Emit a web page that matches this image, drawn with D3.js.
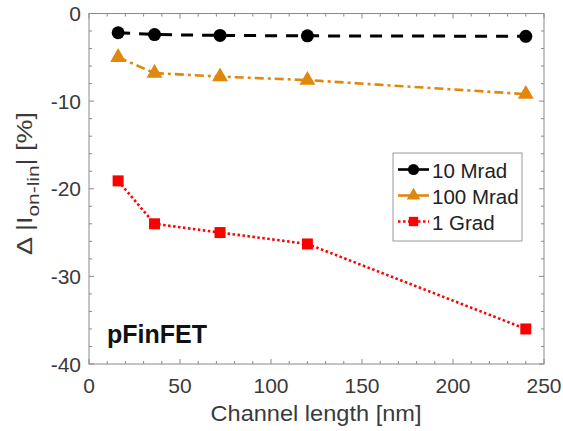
<!DOCTYPE html>
<html>
<head>
<meta charset="utf-8">
<script src="https://cdn.jsdelivr.net/npm/d3@7"></script>
<style>
  body { margin: 0; background: #fff; }
  svg { font-family: "Liberation Sans", Arial, sans-serif; }
</style>
</head>
<body>
<svg width="563" height="431"></svg>
<script>
const channelLength = [16, 36, 72, 120, 240];
const mrad10 = [-2.2, -2.4, -2.5, -2.55, -2.6];
const mrad100 = [-5.0, -6.8, -7.2, -7.6, -9.2];
const grad1 = [-19.1, -24.0, -25.0, -26.3, -36.0];
const xTicks = [0, 50, 100, 150, 200, 250];
const yTicks = [0, -10, -20, -30, -40];

const series = [
    { name: "10 Mrad", values: mrad10, color: "#000000", dash: "12,9", width: 3, marker: "circle" },
    { name: "100 Mrad", values: mrad100, color: "#e0870c", dash: "9,4,3,4", width: 2.6, marker: "triangle" },
    { name: "1 Grad", values: grad1, color: "#ff0000", dash: "2.5,2.5", width: 2.6, marker: "square" }
];

const svg = d3.select("svg");
const mLeft = 89, mRight = 544, mTop = 13.5, mBottom = 364;

const x = d3.scaleLinear().domain([0, 250]).range([mLeft, mRight]);
const y = d3.scaleLinear().domain([-40, 0]).range([mBottom, mTop]);

const axisColor = "#8a8a8a";
const labelColor = "#3a3a3a";

// frame
svg.append("rect")
    .attr("x", mLeft).attr("y", mTop)
    .attr("width", mRight - mLeft).attr("height", mBottom - mTop)
    .attr("fill", "none").attr("stroke", axisColor).attr("stroke-width", 1);

// ticks, inward on all four sides
const xMinor = d3.range(0, 251, 10);
const yMinor = d3.range(-40, 1, 2);
const g = svg.append("g").attr("stroke", axisColor).attr("stroke-width", 1);
xMinor.forEach(v => {
    const len = v % 50 === 0 ? 5 : 3;
    g.append("line").attr("x1", x(v)).attr("x2", x(v)).attr("y1", mBottom).attr("y2", mBottom - len);
    g.append("line").attr("x1", x(v)).attr("x2", x(v)).attr("y1", mTop).attr("y2", mTop + len);
});
yMinor.forEach(v => {
    const len = v % 10 === 0 ? 5 : 3;
    g.append("line").attr("y1", y(v)).attr("y2", y(v)).attr("x1", mLeft).attr("x2", mLeft + len);
    g.append("line").attr("y1", y(v)).attr("y2", y(v)).attr("x1", mRight).attr("x2", mRight - len);
});

// tick labels
svg.selectAll(".xt").data(xTicks).enter().append("text")
    .attr("x", d => x(d)).attr("y", mBottom + 29)
    .attr("text-anchor", "middle").attr("font-size", "21px").attr("fill", labelColor)
    .text(d => d);
svg.selectAll(".yt").data(yTicks).enter().append("text")
    .attr("x", mLeft - 8).attr("y", d => y(d) + 7.5)
    .attr("text-anchor", "end").attr("font-size", "21px").attr("fill", labelColor)
    .text(d => d);

// axis labels
svg.append("text")
    .attr("x", 316).attr("y", 421)
    .attr("text-anchor", "middle").attr("font-size", "22px").attr("fill", labelColor)
    .attr("textLength", 211).attr("lengthAdjust", "spacingAndGlyphs")
    .text("Channel length [nm]");

const yl = svg.append("text")
    .attr("transform", "translate(32, 183.5) rotate(-90)")
    .attr("text-anchor", "middle").attr("font-size", "22px").attr("fill", labelColor)
    .attr("textLength", 143).attr("lengthAdjust", "spacingAndGlyphs");
yl.append("tspan").text("\u0394 |I");
yl.append("tspan").attr("font-size", "17px").attr("dy", 7).text("on-lin");
yl.append("tspan").attr("dy", -7).text("| [%]");

// lines + markers
const line = d3.line().x((d, i) => x(channelLength[i])).y(d => y(d));

function drawMarker(sel, type, color, cx, cy, scale) {
    const k = scale || 1;
    if (type === "circle") {
        sel.append("circle").attr("cx", cx).attr("cy", cy).attr("r", 6.5 * k).attr("fill", color);
    } else if (type === "triangle") {
        sel.append("path")
            .attr("d", d3.symbol().type(d3.symbolTriangle).size(110 * k * k)())
            .attr("transform", `translate(${cx},${cy})`).attr("fill", color);
    } else {
        sel.append("rect").attr("x", cx - 5.5 * k).attr("y", cy - 5.5 * k)
            .attr("width", 11 * k).attr("height", 11 * k).attr("fill", color);
    }
}

series.forEach(s => {
    svg.append("path")
        .attr("d", line(s.values))
        .attr("fill", "none").attr("stroke", s.color)
        .attr("stroke-width", s.width).attr("stroke-dasharray", s.dash);
    const mg = svg.append("g");
    s.values.forEach((v, i) => drawMarker(mg, s.marker, s.color, x(channelLength[i]), y(v)));
});

// legend
const lg = svg.append("g");
lg.append("rect").attr("x", 393).attr("y", 153).attr("width", 129).attr("height", 88)
    .attr("fill", "#fff").attr("stroke", "#999").attr("stroke-width", 1);
series.forEach((s, i) => {
    const ly = 169.5 + i * 26;
    lg.append("line").attr("x1", 398).attr("x2", 429).attr("y1", ly).attr("y2", ly)
        .attr("stroke", s.color).attr("stroke-width", 2.6)
        .attr("stroke-dasharray", s.marker === "square" ? "2.5,2.5" : null);
    drawMarker(lg, s.marker, s.color, 413.5, ly, 0.85);
    lg.append("text").attr("x", 432).attr("y", ly + 8)
        .attr("font-size", "20.5px").attr("fill", "#222").text(s.name);
});

// annotation
svg.append("text")
    .attr("x", 107).attr("y", 343)
    .attr("font-size", "25px").attr("font-weight", "bold").attr("fill", "#111")
    .text("pFinFET");
</script>
</body>
</html>
